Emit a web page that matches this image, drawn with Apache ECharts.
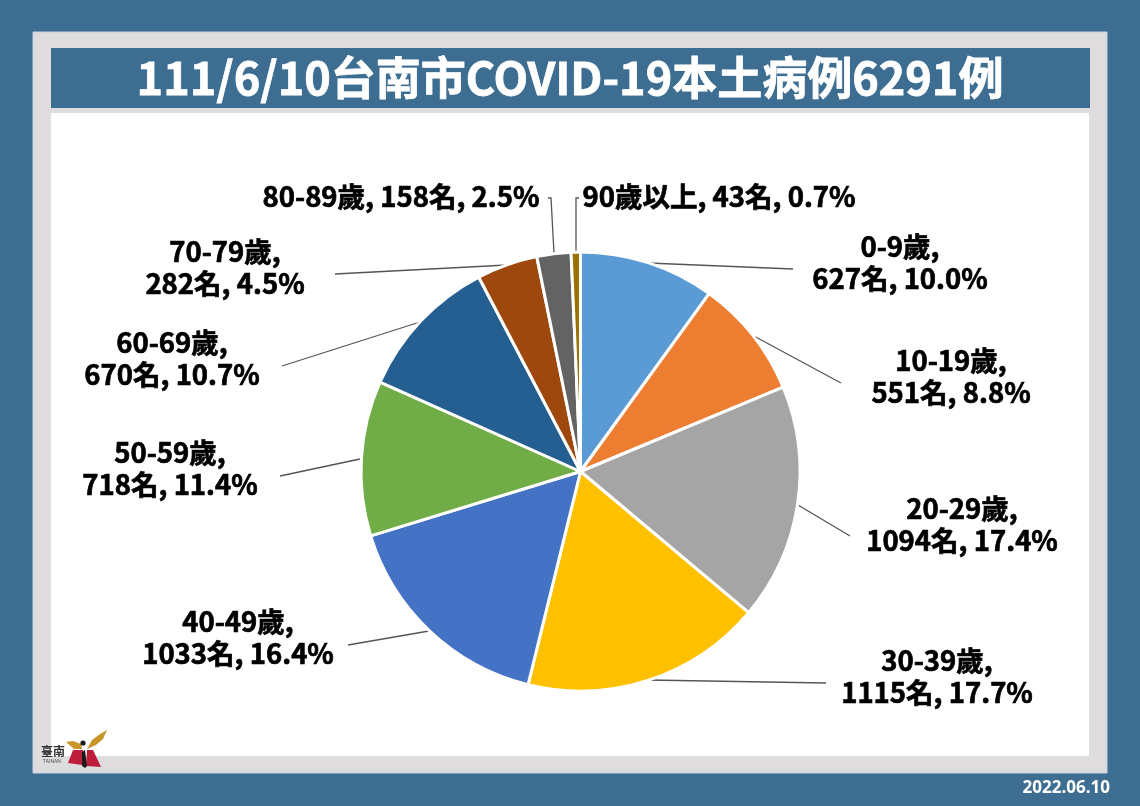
<!DOCTYPE html>
<html lang="zh-Hant"><head><meta charset="utf-8">
<style>html,body{margin:0;padding:0;background:#3D6E92}#c{width:1140px;height:806px}</style>
<script src="https://cdn.jsdelivr.net/npm/echarts@6/dist/echarts.min.js"></script>
</head><body><div id="c"></div>
<script>
const categories=['0-9歲','10-19歲','20-29歲','30-39歲','40-49歲','50-59歲','60-69歲','70-79歲','80-89歲','90歲以上'];
const cases=[627,551,1094,1115,1033,718,670,282,158,43];
const percents=['10.0%','8.8%','17.4%','17.7%','16.4%','11.4%','10.7%','4.5%','2.5%','0.7%'];
const sliceColors=['#5B9BD5','#ED7D31','#A5A5A5','#FFC000','#4472C4','#70AD47','#255E91','#9E480E','#636363','#997300'];
const titleText='111/6/10台南市COVID-19本土病例6291例';
const dateText='2022.06.10';
const singleLine=[false,false,false,false,false,false,false,false,true,true];

// annotation placement: label centre and leader polyline
const labelPlacement=[
 {x:900,y:263,line:[[648,263],[793,269]]},
 {x:951,y:377,line:[[752,335],[841,383]]},
 {x:962,y:525,line:[[798,505],[850,536]]},
 {x:937,y:677,line:[[648,680],[826,683]]},
 {x:238,y:638,line:[[429,631],[348,645]]},
 {x:170,y:469,line:[[360,459],[280,476]]},
 {x:172,y:359,line:[[420,322],[282,366]]},
 {x:225,y:268,line:[[507,265],[335,274]]},
 {x:401,y:197,line:[[554,253],[551,198],[548,198]]},
 {x:719,y:197,line:[[576,253],[576,198],[579,198]]}
];
const font='"Noto Sans CJK TC","Noto Sans CJK SC",sans-serif';
const chart=echarts.init(document.getElementById('c'));
chart.setOption({
 animation:false,
 backgroundColor:'#3D6E92',
 title:{text:titleText,left:565,top:73,textAlign:'center',textVerticalAlign:'middle',
  textStyle:{color:'#fff',fontFamily:font,fontWeight:'bold',fontSize:45,textBorderColor:'#fff',textBorderWidth:0.8}},
 graphic:[
  {type:'rect',z:-10,shape:{x:33,y:32,width:1074,height:741},style:{fill:'#DEDCDD',stroke:'#C5D3E0',lineWidth:1}},
  {type:'rect',z:-9,shape:{x:51,y:48,width:1039,height:60},style:{fill:'#3D6E92'}},
  {type:'rect',z:-9,shape:{x:51,y:113,width:1038,height:643},style:{fill:'#fff'}},
  {type:'polygon',z:5,shape:{points:[[66,742],[73,741],[81,744],[82,749],[74,749]]},style:{fill:'#C8952B'}},
  {type:'polygon',z:5,shape:{points:[[87,749],[92,740],[100,734],[107,730],[103,739],[96,745]]},style:{fill:'#C8952B'}},
  {type:'polygon',z:5,shape:{points:[[73,750],[83,750],[82,765],[68,763]]},style:{fill:'#BE1E3C'}},
  {type:'polygon',z:5,shape:{points:[[87,750],[93,750],[101,767],[86,766]]},style:{fill:'#BE1E3C'}},
  {type:'circle',z:6,shape:{cx:83,cy:743,r:2.6},style:{fill:'#1a1a1a'}},
  {type:'polygon',z:6,shape:{points:[[82,752],[85,750],[87,766],[85,768],[82,766]]},style:{fill:'#1a1a1a'}},
  {type:'text',z:5,style:{x:41,y:751,text:'臺南',fill:'#333',font:'bold 12px '+font,textVerticalAlign:'middle'}},
  {type:'text',z:5,style:{x:43,y:762,text:'TAINAN',fill:'#555',font:'5px Roboto',textVerticalAlign:'middle'}},
  {type:'text',z:5,style:{x:1110,y:788,text:dateText,fill:'#fff',textAlign:'right',textVerticalAlign:'middle',font:'bold 17px "Open Sans",sans-serif'}}
 ],
 series:[{
  type:'pie',
  center:[580.5,471.5],radius:[0,219.5],startAngle:90,clockwise:true,avoidLabelOverlap:false,
  data:categories.map((c,i)=>({name:c,value:cases[i],itemStyle:{color:sliceColors[i]},
    label:{formatter:singleLine[i]?`${c}, ${cases[i]}名, ${percents[i]}`:`${c},\n${cases[i]}名, ${percents[i]}`}})),
  itemStyle:{borderColor:'#fff',borderWidth:3},
  label:{show:true,color:'#000',fontFamily:font,fontWeight:'bold',fontSize:27.5,lineHeight:32,align:'center',textBorderColor:'#000',textBorderWidth:0.7},
  labelLine:{show:true,lineStyle:{color:'#555',width:1.3}},
  labelLayout:p=>{const l=labelPlacement[p.dataIndex];
    return {x:l.x,y:l.y,align:'center',verticalAlign:'middle',labelLinePoints:l.line};},
  emphasis:{disabled:true}
 }]
});
</script></body></html>
